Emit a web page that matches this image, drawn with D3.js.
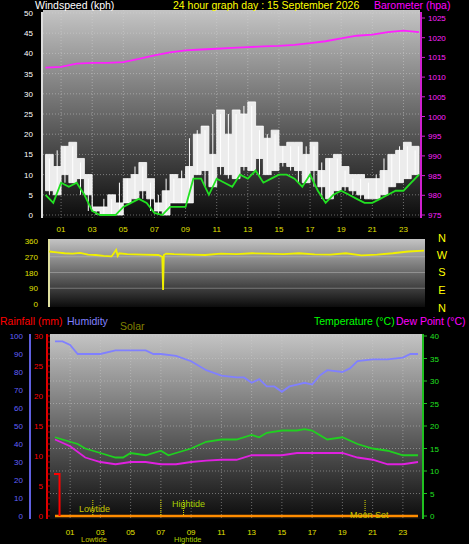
<!DOCTYPE html><html><head><meta charset="utf-8">
<script src="https://cdn.jsdelivr.net/npm/d3@7"></script>
<style>body{margin:0;background:#000}svg{display:block}text{font-family:"Liberation Sans",Arial,sans-serif}</style></head><body>
<script>
const hourLabels=["01","03","05","07","09","11","13","15","17","19","21","23"];
const hours=[1,3,5,7,9,11,13,15,17,19,21,23];
const baroH=[0,1,2,3,4,5,6,7,8,9,10,11,12,13,14,15,16,17,18,19,20,21,22,23,24];
const baro=[1012.4,1012.6,1013.4,1013.6,1013.6,1013.8,1014.6,1015.5,1016.3,1016.8,1017,1017.2,1017.4,1017.6,1017.8,1017.9,1018.2,1018.6,1019.1,1019.8,1020.5,1020.8,1021.4,1021.8,1021.4];
const windAvg=[5,3,8,7,8,5,1,0,0,0,2,3,4,3,0.5,0,2,2,2,9,9,5,9,8,7,10,9,11,8,9,10,10,9,7,10,6,3,5,6,5,4,3,3,4,5,6,6,8,10];
const gustHigh=[15,12,17,18,14,10,2,2,5,3,9,10,13,9,3,6,10,9,12,20,22,15,26,20,26,25,28,22,19,21,17,18,18,15,18,11,14,15,12,10,10,9,9,11,15,16,18,17,15];
const gustLow=[6,5,10,8,9,5,1,0,0,0,3,4,6,4,1,0,3,3,3,10,11,7,12,10,9,12,11,14,10,11,13,12,11,8,11,7,4,6,7,6,5,4,4,5,7,8,9,10,11];
const dirH=[0,0.5,1,1.5,2,2.5,3,3.5,4,4.3,4.4,4.5,5,6,7,7.25,7.3,7.35,7.5,8,9,10,11,12,13,14,15,16,17,18,19,20,21,22,23,24];
const dir=[300,295,290,288,292,282,280,275,272,310,275,290,285,282,280,270,80,280,288,285,282,280,288,285,290,288,285,290,283,282,290,278,282,290,300,305];
const humH=[0,0.5,1,1.5,2,3,4,5,6,6.5,7,8,9,10,11,12,12.5,13,13.5,14,14.5,15,15.5,16,16.5,17,17.5,18,19,19.5,20,21,22,23,23.5,24];
const hum=[97,97,95,90,90,90,92,92,92,90,90,89,86,81,78,77,77,74,76,72,72,69,72,73,74,73,78,81,80,82,86,87,87,88,90,90];
const tH=[0,1,1.5,2,3,4,4.5,5,6,7,7.5,8,9,10,11,12,13,13.5,14,15,16,16.5,17,18,19,20,21,22,23,24];
const temp=[17.5,16.5,16,15,14,13,13,14,13.5,14.5,13.5,14,15,16.5,17,17,18,17.5,18.5,19,19,19.3,19,17,17.5,16,15,14.5,13.5,13.5];
const dH=[0,1,2,3,4,5,6,7,8,9,10,11,12,13,14,15,16,17,18,19,20,21,22,23,24];
const dew=[17,15.5,13,12,11.5,12,12,11.5,11.5,12,12.3,12.5,12.5,13.5,13.5,13.5,14,14,14,14,13,12.5,11.5,11.5,12];
const rainH=[0.3,0.3];const rain=[7,0];
const tides=[2.5,7,8.5,20.5];

const svg=d3.select("body").append("svg").attr("width",469).attr("height",544);
const defs=svg.append("defs");
const g1=defs.append("linearGradient").attr("id","bg").attr("x1",0).attr("x2",0).attr("y1",0).attr("y2",1);
g1.append("stop").attr("offset","0").attr("stop-color","#c4c4c4");
g1.append("stop").attr("offset","1").attr("stop-color","#0c0c0c");
function txt(x,y,s,c,size,anchor){return svg.append("text").attr("x",x).attr("y",y).text(s).attr("fill",c).attr("font-size",size||11).attr("text-anchor",anchor||"start");}

// ---- Top panel
const x1=d3.scaleLinear().domain([0,24]).range([45.5,419]);
const yW=d3.scaleLinear().domain([0,50]).range([215,13]);
const yP=d3.scaleLinear().domain([975,1025]).range([215,18]);
svg.append("rect").attr("x",43).attr("y",10).attr("width",377).attr("height",208).attr("fill","url(#bg)");
const grid1=svg.append("g").attr("stroke","#d8d8d8").attr("stroke-dasharray","1,2").attr("opacity",0.45);
d3.range(0,51,5).forEach(v=>grid1.append("line").attr("x1",43).attr("x2",420).attr("y1",yW(v)).attr("y2",yW(v)));
hours.forEach(h=>grid1.append("line").attr("x1",x1(h)).attr("x2",x1(h)).attr("y1",10).attr("y2",218));
const half=d3.range(0,24.01,0.5);
svg.append("path").datum(half).attr("fill","#ececec").attr("stroke","#fff").attr("stroke-width",0.8)
 .attr("d",d3.area().x(h=>x1(h)).y0((h,i)=>yW(gustLow[i])).y1((h,i)=>yW(gustHigh[i])).curve(d3.curveStepAfter));
const gg=svg.append("g").attr("stroke","#fff").attr("stroke-width",1);
half.forEach((h,i)=>{if(i<half.length-1){const m=x1(h+0.25);gg.append("line").attr("x1",m).attr("x2",m).attr("y1",yW(Math.max(gustHigh[i],gustHigh[i+1])-1)).attr("y2",yW(Math.min(gustLow[i],gustLow[i+1])));}});
svg.append("path").datum(half).attr("fill","none").attr("stroke","#22e022").attr("stroke-width",1.8)
 .attr("d",d3.line().x(h=>x1(h)).y((h,i)=>yW(windAvg[i])));
svg.append("path").datum(baroH).attr("fill","none").attr("stroke","#ff20ff").attr("stroke-width",1.8)
 .attr("d",d3.line().x(h=>x1(h)).y((h,i)=>yP(baro[i])));
svg.append("line").attr("x1",42).attr("x2",42).attr("y1",12).attr("y2",218).attr("stroke","#ddd").attr("stroke-width",2);
svg.append("line").attr("x1",421).attr("x2",421).attr("y1",12).attr("y2",218).attr("stroke","#d020d0").attr("stroke-width",2);
d3.range(0,51,5).forEach(v=>txt(33,yW(v)+3,v,"#fff",8,"end"));
d3.range(975,1026,5).forEach(v=>{txt(428,yP(v)+3,v,"#ff20ff",8);svg.append("line").attr("x1",421).attr("x2",425).attr("y1",yP(v)).attr("y2",yP(v)).attr("stroke","#d020d0");});
hours.forEach((h,i)=>txt(x1(h),232,hourLabels[i],"#e0e000",8,"middle"));
txt(35,9,"Windspeed (kph)","#fff",10.5);
txt(173,9,"24 hour graph day : 15 September 2026","#ffff00",10.5);
txt(374,9,"Barometer (hpa)","#ff00ff",10.5);

// ---- Direction panel
const x2=d3.scaleLinear().domain([0,24]).range([49,424]);
const yD=d3.scaleLinear().domain([0,360]).range([304,241]);
svg.append("rect").attr("x",48).attr("y",239).attr("width",377).attr("height",68).attr("fill","url(#bg)");
const grid2=svg.append("g").attr("stroke","#ccc").attr("opacity",0.4);
[90,180,270].forEach(v=>grid2.append("line").attr("x1",48).attr("x2",425).attr("y1",yD(v)).attr("y2",yD(v)));
svg.append("line").attr("x1",49).attr("x2",49).attr("y1",239).attr("y2",307).attr("stroke","#e0e0a0").attr("stroke-width",2);
svg.append("path").datum(dirH).attr("fill","none").attr("stroke","#f0f000").attr("stroke-width",1.8)
 .attr("d",d3.line().x(h=>x2(h)).y((h,i)=>yD(dir[i])));
[0,90,180,270,360].forEach(v=>txt(38,yD(v)+3,v,"#e0e000",8,"end"));
["N","W","S","E","N"].forEach((s,i)=>txt(442,[245,262,279,297,315][i]-3,s,"#ffff00",11,"middle"));

// ---- Bottom panel
const x3=d3.scaleLinear().domain([0,24]).range([55,418]);
const yT=d3.scaleLinear().domain([0,40]).range([516,336]);
const yH=d3.scaleLinear().domain([0,100]).range([516,336]);
const yR=d3.scaleLinear().domain([0,30]).range([516,336]);
svg.append("rect").attr("x",50).attr("y",334).attr("width",373).attr("height",185).attr("fill","url(#bg)");
const grid3=svg.append("g").attr("stroke","#d0d0d0").attr("stroke-dasharray","1,2").attr("opacity",0.45);
d3.range(5,41,5).forEach(v=>grid3.append("line").attr("x1",50).attr("x2",423).attr("y1",yT(v)).attr("y2",yT(v)));
hours.forEach(h=>grid3.append("line").attr("x1",x3(h)).attr("x2",x3(h)).attr("y1",334).attr("y2",519));
svg.append("line").attr("x1",x3(0)).attr("x2",x3(24)).attr("y1",516).attr("y2",516).attr("stroke","#ff8c00").attr("stroke-width",2.5);
tides.forEach(h=>{svg.append("line").attr("x1",x3(h)).attr("x2",x3(h)).attr("y1",500).attr("y2",516).attr("stroke","#e0e000").attr("stroke-dasharray","1,1");});
txt(79,512,"Lowtide","#c8c800",9);
txt(172,507,"Hightide","#a8d000",9);
txt(350,518,"Moon Set","#c8c800",9);
svg.append("path").datum(humH).attr("fill","none").attr("stroke","#8080ff").attr("stroke-width",1.8).attr("d",d3.line().x(h=>x3(h)).y((h,i)=>yH(hum[i])));
svg.append("path").datum(tH).attr("fill","none").attr("stroke","#20d020").attr("stroke-width",1.8).attr("d",d3.line().x(h=>x3(h)).y((h,i)=>yT(temp[i])));
svg.append("path").datum(dH).attr("fill","none").attr("stroke","#e020e0").attr("stroke-width",1.8).attr("d",d3.line().x(h=>x3(h)).y((h,i)=>yT(dew[i])));
svg.append("path").attr("fill","none").attr("stroke","#ff0000").attr("stroke-width",2)
 .attr("d",d3.line()([[x3(0)-1,yR(rain[0])],[x3(rainH[0]),yR(rain[0])],[x3(rainH[1]),yR(rain[1])]]));
svg.append("line").attr("x1",30).attr("x2",30).attr("y1",334).attr("y2",519).attr("stroke","#6060e0").attr("stroke-width",2);
svg.append("line").attr("x1",47).attr("x2",47).attr("y1",334).attr("y2",519).attr("stroke","#e00000").attr("stroke-width",2);
svg.append("line").attr("x1",423).attr("x2",423).attr("y1",334).attr("y2",519).attr("stroke","#20c020").attr("stroke-width",2);
d3.range(0,101,10).forEach(v=>txt(23,yH(v)+3,v,"#6060ff",8,"end"));
d3.range(0,31,5).forEach(v=>txt(43,yR(v)+3,v,"#ff0000",8,"end"));
d3.range(0,31,1).forEach(v=>svg.append("line").attr("x1",47).attr("x2",50).attr("y1",yR(v)).attr("y2",yR(v)).attr("stroke","#c00000"));
d3.range(0,41,5).forEach(v=>{txt(430,yT(v)+3,v,"#20e020",8);svg.append("line").attr("x1",423).attr("x2",427).attr("y1",yT(v)).attr("y2",yT(v)).attr("stroke","#20c020");});
hours.forEach((h,i)=>txt(x3(h),535,hourLabels[i],"#e0e000",8,"middle"));
txt(81,542,"Lowtide","#c8c800",7.5);
txt(174,542,"Hightide","#a8d000",7.5);
txt(0,325,"Rainfall (mm)","#ff0000",10.5);
txt(67,325,"Humidity","#8080ff",10.5);
txt(120,330,"Solar","#808000",10.5);
txt(314,325,"Temperature (°C)","#00ff00",10.5);
txt(396,325,"Dew Point (°C)","#ff00ff",10.5);
</script></body></html>
